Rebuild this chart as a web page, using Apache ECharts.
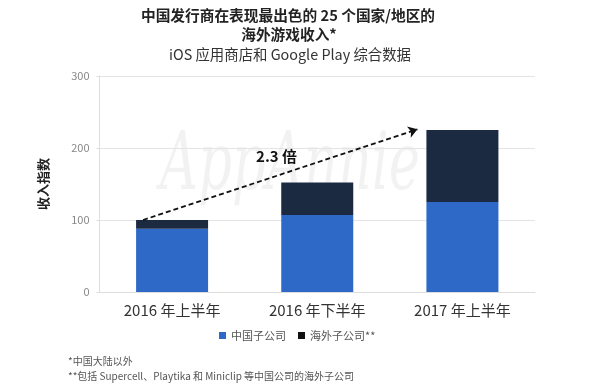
<!DOCTYPE html>
<html><head><meta charset="utf-8">
<script src="https://cdn.jsdelivr.net/npm/echarts@6/dist/echarts.min.js"></script>
<style>html,body{margin:0;padding:0;background:#fff}#c{width:600px;height:386px}</style>
</head><body><div id="c"></div>
<script>
var categories = ['2016 年上半年', '2016 年下半年', '2017 年上半年'];
var chinaSubs = [88, 107, 125];
var overseasSubs = [12, 45, 100];
var seriesNames = ['中国子公司', '海外子公司**'];
var yTicks = [0, 100, 200, 300];
var arrowFrom = [-0.2, 100];
var arrowTo = [1.69, 226];
var arrowLabel = '2.3 倍';
var arrowLabelPos = [0.72, 188];

var font = '"Noto Sans CJK SC", "Noto Sans", sans-serif';
var chart = echarts.init(document.getElementById('c'));
chart.setOption({
  animation: false,
  textStyle: {fontFamily: font},
  graphic: [
    {type: 'text', x: 288, y: 15, style: {text: '中国发行商在表现最出色的 25 个国家/地区的', fill: '#222', align: 'center', verticalAlign: 'middle', font: 'bold 14.7px ' + font}},
    {type: 'text', x: 289, y: 34, style: {text: '海外游戏收入*', fill: '#222', align: 'center', verticalAlign: 'middle', font: 'bold 14.7px ' + font}},
    {type: 'text', x: 290, y: 55, style: {text: 'iOS 应用商店和 Google Play 综合数据', fill: '#333', align: 'center', verticalAlign: 'middle', font: '14.4px ' + font}},
    {type: 'text', x: 160, y: 128, scaleX: 0.66, z: 0, silent: true,
     style: {text: 'AppAnnie', fill: 'rgba(0,0,0,0.05)', font: 'italic 80px "DejaVu Serif", serif'}},
    {type: 'text', left: 68, top: 356, style: {text: '*中国大陆以外', fill: '#555', font: '10px ' + font}},
    {type: 'text', left: 68, top: 371, style: {text: '**包括 Supercell、Playtika 和 Miniclip 等中国公司的海外子公司', fill: '#555', font: '10px ' + font}}
  ],
  legend: {
    bottom: 40, left: 214, itemWidth: 7, itemHeight: 7, itemGap: 12,
    icon: 'rect',
    textStyle: {fontSize: 11, color: '#555', fontFamily: font},
    data: [{name: seriesNames[0]}, {name: seriesNames[1], itemStyle: {color: '#111'}}]
  },
  grid: {left: 99.5, right: 65, top: 76, bottom: 94},
  xAxis: [
    {type: 'category', data: categories,
     axisLine: {lineStyle: {color: '#ddd'}}, axisTick: {show: false},
     axisLabel: {fontSize: 15, color: '#333', margin: 11, fontFamily: font}},
    {type: 'value', min: -0.5, max: 2.5, show: false}
  ],
  yAxis: {
    type: 'value', min: yTicks[0], max: yTicks[yTicks.length - 1], interval: 100,
    name: '收入指数', nameLocation: 'middle', nameGap: 50, nameRotate: 90,
    nameTextStyle: {fontSize: 13, color: '#222', fontWeight: 'bold', fontFamily: font},
    axisLine: {show: true, onZero: false, lineStyle: {color: '#ddd'}},
    axisTick: {show: true, length: 3, lineStyle: {color: '#ddd'}},
    axisLabel: {fontSize: 11, color: '#888', margin: 10, fontFamily: font},
    splitLine: {lineStyle: {color: '#e4e4e4'}}
  },
  series: [
    {name: seriesNames[0], type: 'bar', stack: 'a', data: chinaSubs, barWidth: 72,
     itemStyle: {color: '#2F69C7'}},
    {name: seriesNames[1], type: 'bar', stack: 'a', data: overseasSubs, barWidth: 72,
     itemStyle: {color: '#1B2A40'}},
    {type: 'line', xAxisIndex: 1, data: [], symbol: 'none', silent: true,
     markLine: {
       silent: true, symbol: ['none', 'arrow'], symbolSize: 9,
       lineStyle: {color: '#111', type: [5, 3], width: 1.8},
       label: {show: false},
       data: [[{coord: arrowFrom}, {coord: arrowTo}]]
     },
     markPoint: {
       symbol: 'rect', symbolSize: 1, itemStyle: {color: 'transparent'},
       label: {show: true, formatter: arrowLabel, fontSize: 15, fontWeight: 'bold', color: '#111', fontFamily: font, position: 'inside'},
       data: [{coord: arrowLabelPos}]
     }}
  ]
});
</script></body></html>
